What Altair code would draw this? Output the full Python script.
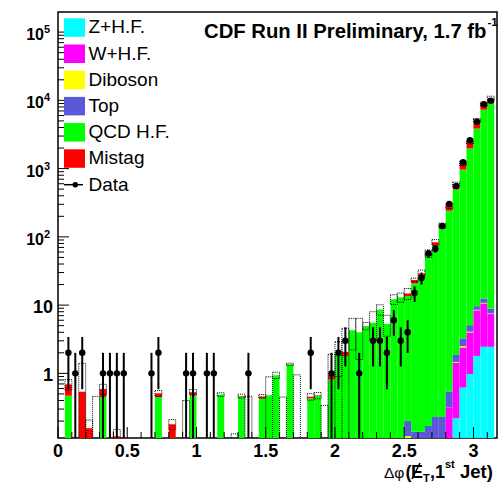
import altair as alt
import pandas as pd
import numpy as np

# ---------------- data ----------------
bin_width = 0.05
n_bins = 63

mistag = [0, 0.22, 0, 0.54, 0.157, 0.08, 0.14, 0, 0.12, 0,
          0, 0, 0, 0, 0.06, 0, 0.18, 0, 0.1, 0.05,
          0, 0, 0, 0, 0, 0.06, 0.01, 0.1, 0, 0.03,
          0, 0, 0.1, 0, 0.1, 0, 0.025, 0.01, 0.1, 0.13,
          0, 0.28, 0, 0, 0.05, 0, 0, 0, 0, 0,
          1.3, 2.5, 2.5, 3, 9, 6, 42, 95, 225, 480,
          1240, 1500, 1400]
qcd = [0, 0.47, 0, 0, 0, 0, 0.45, 0, 0, 0,
       0, 0, 0, 0, 0.45, 0, 0, 0, 0, 0.48,
       0, 0, 0, 0.49, 0, 0, 0.455, 0, 0, 0.43,
       0.48, 0.94, 0, 1.36, 0, 0, 0.43, 0.465, 0, 0.82,
       1.9, 1.79, 4.3, 4.0, 4.9, 5.5, 8.6, 5.3, 12.2, 13.0,
       13.3, 20.7, 26.5, 54, 74, 140, 241, 493, 962, 1975,
       3848, 7288, 9190]
top = [0] * 50 + [0.08, 0.14, 0.14, 0.17, 0.23, 0.23, 0.22, 0.4, 0.75, 1.0, 1.1, 1.7, 1.35]
diboson = [0] * 50 + [0.12, 0, 0, 0, 0, 0, 0, 0.03, 0.1, 0.1, 0.15, 0.2, 0.15]
whf = [0] * 56 + [0.32, 1.21, 1.78, 3.0, 6.6, 8.15, 4.95]
zhf = [0] * 57 + [0.22, 0.62, 0.98, 1.8, 2.45, 2.45]
unc = [0, 0.12, 0, 0.86, 0.05, 0.38, 0.1, 0, 0.03, 0,
       0, 0, 0, 0, 0.05, 0, 0.03, 0, 0.3, 0.05,
       0, 0, 0, 0.03, 0, 0.07, 0.03, 0.36, 0, 0.03,
       0.41, 0.1, 0.35, 0.05, 0.85, 0, 0.05, 0.05, 0.24, 0.95,
       1.0, 2.5, 2.1, 2.4, 0.6, 2.5, 1.5, 1.8, 2.0, 2.0,
       2.7, 1.5, 3.5, 7, 8, 12, 25, 45, 90, 170,
       330, 600, 900]
data = [0, 2, 1, 2, 0, 0, 1, 1, 1, 1,
        0, 0, 0, 1, 2, 0, 0, 0, 1, 1,
        0, 1, 1, 0, 0, 0, 0, 1, 0, 0,
        0, 0, 0, 0, 0, 0, 2, 0, 0, 1,
        2, 3, 0, 1, 0, 3, 3, 2, 6, 3,
        4, 15, 25, 57, 67, 144, 302, 554, 1240, 2610,
        4860, 8740, 9900]

comps = ["Z+H.F.", "W+H.F.", "Diboson", "Top", "QCD H.F.", "Mistag"]
colors = ["#00ffff", "#ff00ff", "#ffff00", "#5a5ad8", "#00ff00", "#ff0000"]
series = [zhf, whf, diboson, top, qcd, mistag]

x_major = [0, 0.5, 1, 1.5, 2, 2.5, 3]
x_major_labels = ["0", "0.5", "1", "1.5", "2", "2.5", "3"]
y_pow = [100, 1000, 10000, 100000]
y_pow_exp = ["2", "3", "4", "5"]
y_plain = [1, 10]
y_plain_labels = ["1", "10"]

# ---------------- layout ----------------
W, H = 439, 426
YMIN, YMAX = 0.113, 1.97e5
FLOOR = 1e-3
xs = alt.Scale(domain=[0, 3.17], nice=False, zero=False)
ys = alt.Scale(type="log", domain=[YMIN, YMAX], nice=False)
FONT = "Liberation Sans"

# stacked MC
rows = []
for k in range(n_bins):
    lo, hi = k * bin_width, (k + 1) * bin_width
    cum = 0.0
    for name, arr in zip(comps, series):
        v = arr[k]
        if v > 0:
            rows.append(dict(lo=lo, hi=hi, y0=max(cum, FLOOR), y1=cum + v, comp=name))
            cum += v
stack_df = pd.DataFrame(rows)

band_rows = []
for k in range(n_bins):
    tot = sum(arr[k] for arr in series)
    if unc[k] > 0:
        band_rows.append(dict(lo=k * bin_width, hi=(k + 1) * bin_width,
                              b0=max(tot - unc[k], FLOOR), b1=tot + unc[k]))
band_df = pd.DataFrame(band_rows)

d_rows = []
for k in range(n_bins):
    n = data[k]
    if n > 0:
        e = np.sqrt(n)
        d_rows.append(dict(xc=(k + 0.5) * bin_width, n=n, elo=max(n - e, FLOOR), ehi=n + e))
data_df = pd.DataFrame(d_rows)

stack = alt.Chart(stack_df).mark_rect(clip=True).encode(
    x=alt.X("lo:Q", scale=xs, axis=None), x2="hi:Q",
    y=alt.Y("y0:Q", scale=ys, axis=None), y2="y1:Q",
    color=alt.Color("comp:N", scale=alt.Scale(domain=comps, range=colors), legend=None),
)
band = alt.Chart(band_df).mark_rect(clip=True, fillOpacity=0, stroke="black",
                                   strokeDash=[1, 1], strokeWidth=1).encode(
    x=alt.X("lo:Q", scale=xs, axis=None), x2="hi:Q",
    y=alt.Y("b0:Q", scale=ys, axis=None), y2="b1:Q",
)
err = alt.Chart(data_df).mark_rule(clip=True, color="black", strokeWidth=2).encode(
    x=alt.X("xc:Q", scale=xs, axis=None),
    y=alt.Y("elo:Q", scale=ys, axis=None), y2="ehi:Q",
)
pts = alt.Chart(data_df).mark_circle(color="black", opacity=1, size=42, clip=True).encode(
    x=alt.X("xc:Q", scale=xs, axis=None),
    y=alt.Y("n:Q", scale=ys, axis=None),
)

# ticks (inward, ROOT style)
x_minor = [round(i * 0.1, 1) for i in range(0, 32) if round(i * 0.1, 1) not in x_major]
xt_major = alt.Chart(pd.DataFrame({"t": x_major})).mark_rule(color="black", strokeWidth=1).encode(
    x=alt.X("t:Q", scale=xs, axis=None), y=alt.value(H), y2=alt.value(H - 11))
xt_minor = alt.Chart(pd.DataFrame({"t": x_minor})).mark_rule(color="black", strokeWidth=1).encode(
    x=alt.X("t:Q", scale=xs, axis=None), y=alt.value(H), y2=alt.value(H - 6))
y_major = y_plain + y_pow
y_minor = [m * 10.0 ** e for e in range(-1, 6) for m in range(2, 10) if YMIN < m * 10.0 ** e < YMAX]
yt_major = alt.Chart(pd.DataFrame({"t": y_major})).mark_rule(color="black", strokeWidth=1).encode(
    y=alt.Y("t:Q", scale=ys, axis=None), x=alt.value(0), x2=alt.value(11))
yt_minor = alt.Chart(pd.DataFrame({"t": y_minor})).mark_rule(color="black", strokeWidth=1).encode(
    y=alt.Y("t:Q", scale=ys, axis=None), x=alt.value(0), x2=alt.value(6))

# tick labels
xlab = alt.Chart(pd.DataFrame({"t": x_major, "lab": x_major_labels})).mark_text(
    font=FONT, fontSize=18, fontWeight="bold", baseline="alphabetic", align="center").encode(
    x=alt.X("t:Q", scale=xs, axis=None), y=alt.value(H + 19), text="lab:N")
ylab_plain = alt.Chart(pd.DataFrame({"t": y_plain, "lab": y_plain_labels})).mark_text(
    font=FONT, fontSize=18, fontWeight="bold", baseline="alphabetic", align="right", dy=8).encode(
    y=alt.Y("t:Q", scale=ys, axis=None), x=alt.value(-5), text="lab:N")
ylab_pow_base = alt.Chart(pd.DataFrame({"t": y_pow})).mark_text(
    font=FONT, fontSize=16, fontWeight="bold", baseline="alphabetic", align="right", dy=8).encode(
    y=alt.Y("t:Q", scale=ys, axis=None), x=alt.value(-14), text=alt.value("10"))
ylab_pow_exp = alt.Chart(pd.DataFrame({"t": y_pow, "lab": y_pow_exp})).mark_text(
    font=FONT, fontSize=11, fontWeight="bold", baseline="alphabetic", align="left", dy=1).encode(
    y=alt.Y("t:Q", scale=ys, axis=None), x=alt.value(-14), text="lab:N")

one = pd.DataFrame({"a": [0]})


def txt(s, x, y, size, bold=True, align="left"):
    return alt.Chart(one).mark_text(font=FONT, fontSize=size, fontWeight="bold" if bold else "normal",
                                    baseline="alphabetic", align=align, color="black").encode(
        x=alt.value(x), y=alt.value(y), text=alt.value(s))


# legend
legend_layers = []
for i, (lab, col) in enumerate(zip(comps, colors)):
    y0 = 6.3 + 26.2 * i
    legend_layers.append(alt.Chart(one).mark_rect(color=col).encode(
        x=alt.value(6), x2=alt.value(27), y=alt.value(y0), y2=alt.value(y0 + 18.5)))
    legend_layers.append(txt(lab, 30.5, 21.3 + 26.2 * i, 19, bold=False))
ly = 6.3 + 26.2 * 6 + 9.2
legend_layers.append(alt.Chart(one).mark_rule(color="black", strokeWidth=1.5).encode(
    x=alt.value(6), x2=alt.value(25), y=alt.value(ly)))
legend_layers.append(alt.Chart(one).mark_circle(color="black", opacity=1, size=30).encode(
    x=alt.value(17.3), y=alt.value(ly)))
legend_layers.append(txt("Data", 30.5, 21.3 + 26.2 * 6, 19, bold=False))

# title
title_layers = [
    txt("CDF Run II Preliminary, 1.7 fb", 486.5 - 58, 26, 20.3, align="right"),
    txt("-1", 487.5 - 58, 14, 11.5),
]

# x axis title
BASE = 478 - 12
xt_layers = [
    txt("\u0394\u03c6", 384 - 58, BASE, 15.5, bold=False),
    txt("(", 405.5 - 58, BASE, 18),
    txt("E", 411 - 58, BASE, 18),
    alt.Chart(one).mark_rule(color="black", strokeWidth=1.6).encode(
        x=alt.value(412 - 58), x2=alt.value(420 - 58),
        y=alt.value(BASE + 1), y2=alt.value(BASE - 15)),
    txt("T", 423 - 58, BASE + 4, 11),
    txt(",1", 430 - 58, BASE, 18),
    txt("st", 445 - 58, BASE - 10, 11),
    txt("Jet)", 460 - 58, BASE, 18.5),
]

chart = alt.layer(
    stack, band, err, pts,
    xt_major, xt_minor, yt_major, yt_minor,
    xlab, ylab_plain, ylab_pow_base, ylab_pow_exp,
    *legend_layers, *title_layers, *xt_layers,
).properties(
    width=W, height=H,
    autosize=alt.AutoSizeParams(type="none"),
    padding={"left": 58, "top": 12, "right": 7, "bottom": 46},
).configure_view(stroke="black", strokeWidth=1.5)

chart.save("out.html", embed_options={"renderer": "svg", "actions": False})
